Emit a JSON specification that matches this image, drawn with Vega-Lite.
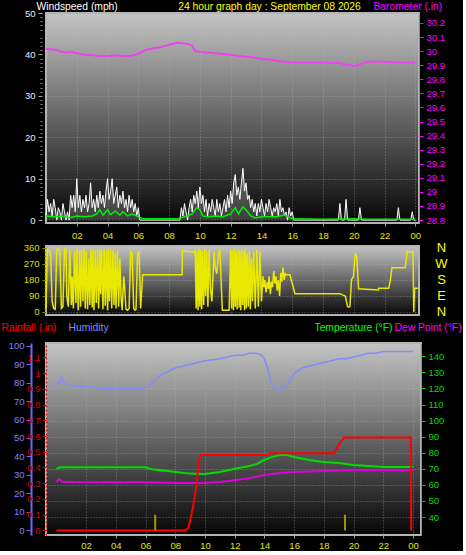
{
"$schema": "https://vega.github.io/schema/vega-lite/v6.json",
"background": "#000000",
"padding": 0,
"autosize": {"type": "pad"},
"config": {
 "font": "Liberation Sans",
 "axis": {"labelFont": "Liberation Sans", "titleFont": "Liberation Sans", "labelFontSize": 9.5, "titleFontSize": 10.3, "titleFontWeight": "normal", "gridColor": "#b8b8b8", "gridDash": [1, 2], "gridOpacity": 0.5, "domain": false, "labelFlush": false, "labelOverlap": false, "labelBound": false},
 "view": {"stroke": "#b4b4b4", "strokeWidth": 2, "fill": {"gradient": "linear", "x1": 0, "y1": 0, "x2": 0, "y2": 1, "stops": [{"offset": 0, "color": "#c4c4c4"}, {"offset": 1, "color": "#060606"}]}}
},
"datasets": {
 "gust": [
  {"h":0.0,"v":1},{"h":0.1,"v":5},{"h":0.2,"v":2},{"h":0.3,"v":4},{"h":0.4,"v":1},{"h":0.5,"v":5},{"h":0.6,"v":3},{"h":0.7,"v":0},{"h":0.8,"v":3},{"h":0.9,"v":2},
  {"h":1.0,"v":0},{"h":1.1,"v":4},{"h":1.2,"v":2},{"h":1.3,"v":0},{"h":1.4,"v":2},{"h":1.5,"v":0},{"h":1.6,"v":6},{"h":1.7,"v":3},{"h":1.8,"v":6},{"h":1.9,"v":2},
  {"h":2.0,"v":10},{"h":2.1,"v":3},{"h":2.2,"v":6},{"h":2.3,"v":2},{"h":2.4,"v":5},{"h":2.5,"v":3},{"h":2.6,"v":6},{"h":2.7,"v":2},{"h":2.8,"v":4},{"h":2.9,"v":9},
  {"h":3.0,"v":3},{"h":3.1,"v":5},{"h":3.2,"v":2},{"h":3.3,"v":6},{"h":3.4,"v":3},{"h":3.5,"v":7},{"h":3.6,"v":4},{"h":3.7,"v":6},{"h":3.8,"v":3},{"h":3.9,"v":7},
  {"h":4.0,"v":10},{"h":4.1,"v":5},{"h":4.2,"v":7},{"h":4.3,"v":10},{"h":4.4,"v":4},{"h":4.5,"v":6},{"h":4.6,"v":8},{"h":4.7,"v":3},{"h":4.8,"v":6},{"h":4.9,"v":4},
  {"h":5.0,"v":7},{"h":5.1,"v":3},{"h":5.2,"v":5},{"h":5.3,"v":2},{"h":5.4,"v":6},{"h":5.5,"v":3},{"h":5.6,"v":5},{"h":5.7,"v":2},{"h":5.8,"v":4},{"h":5.9,"v":1},
  {"h":6.0,"v":3},{"h":6.1,"v":0},{"h":8.7,"v":0},
  {"h":8.8,"v":3},{"h":8.9,"v":1},{"h":9.0,"v":4},{"h":9.1,"v":2},{"h":9.2,"v":0},{"h":9.3,"v":3},{"h":9.4,"v":5},{"h":9.5,"v":2},{"h":9.6,"v":6},{"h":9.7,"v":4},
  {"h":9.8,"v":7},{"h":9.9,"v":3},{"h":10.0,"v":8},{"h":10.1,"v":4},{"h":10.2,"v":6},{"h":10.3,"v":2},{"h":10.4,"v":5},{"h":10.5,"v":1},{"h":10.6,"v":4},{"h":10.7,"v":2},
  {"h":10.8,"v":5},{"h":10.9,"v":3},{"h":11.0,"v":1},{"h":11.1,"v":5},{"h":11.2,"v":2},{"h":11.3,"v":4},{"h":11.4,"v":1},{"h":11.5,"v":3},{"h":11.6,"v":5},{"h":11.7,"v":2},
  {"h":11.8,"v":6},{"h":11.9,"v":3},{"h":12.0,"v":7},{"h":12.1,"v":4},{"h":12.2,"v":9},{"h":12.3,"v":11},{"h":12.4,"v":6},{"h":12.5,"v":8},{"h":12.6,"v":5},{"h":12.7,"v":9},
  {"h":12.8,"v":12.5},{"h":12.9,"v":7},{"h":13.0,"v":9},{"h":13.1,"v":5},{"h":13.2,"v":6},{"h":13.3,"v":3},{"h":13.4,"v":5},{"h":13.5,"v":2},{"h":13.6,"v":4},{"h":13.7,"v":1},
  {"h":13.8,"v":4},{"h":13.9,"v":2},{"h":14.0,"v":5},{"h":14.1,"v":3},{"h":14.2,"v":1},{"h":14.3,"v":4},{"h":14.4,"v":2},{"h":14.5,"v":5},{"h":14.6,"v":3},{"h":14.7,"v":1},
  {"h":14.8,"v":3},{"h":14.9,"v":2},{"h":15.0,"v":4},{"h":15.1,"v":1},{"h":15.2,"v":5},{"h":15.3,"v":2},{"h":15.4,"v":3},{"h":15.5,"v":1},{"h":15.6,"v":2},{"h":15.7,"v":0},
  {"h":15.8,"v":3},{"h":15.9,"v":1},{"h":16.0,"v":2},{"h":16.1,"v":0},
  {"h":19.0,"v":0},{"h":19.1,"v":4},{"h":19.2,"v":0},{"h":19.4,"v":0},{"h":19.5,"v":5},{"h":19.6,"v":0},{"h":20.3,"v":0},{"h":20.4,"v":3},{"h":20.5,"v":0},
  {"h":22.8,"v":0},{"h":22.9,"v":3},{"h":23.0,"v":0},{"h":23.7,"v":0},{"h":23.8,"v":2},{"h":23.9,"v":0},{"h":24.0,"v":0}
 ],
 "avg": [
  {"h":0,"v":1},{"h":0.5,"v":0.8},{"h":1,"v":1},{"h":1.5,"v":0.6},{"h":2,"v":1},{"h":2.5,"v":0.8},{"h":3,"v":1},{"h":3.3,"v":1.5},{"h":3.5,"v":2.5},{"h":3.7,"v":1.2},
  {"h":4,"v":2.5},{"h":4.2,"v":1.3},{"h":4.5,"v":2.2},{"h":4.8,"v":1.2},{"h":5,"v":2},{"h":5.3,"v":1},{"h":5.6,"v":1.5},{"h":6,"v":0.8},{"h":6.3,"v":0.3},{"h":8.5,"v":0.3},
  {"h":9.0,"v":0.8},{"h":9.5,"v":1.5},{"h":9.8,"v":3},{"h":10.0,"v":2.5},{"h":10.2,"v":1},{"h":10.5,"v":0.8},{"h":11,"v":1},{"h":11.5,"v":0.8},{"h":12,"v":1.5},{"h":12.3,"v":3},
  {"h":12.5,"v":1.5},{"h":12.8,"v":3.2},{"h":13.0,"v":2.5},{"h":13.3,"v":1},{"h":13.6,"v":0.5},{"h":14,"v":0.8},{"h":15,"v":0.8},{"h":15.5,"v":1.2},{"h":16,"v":0.3},{"h":18,"v":0.2},
  {"h":20,"v":0.3},{"h":21,"v":0.2},{"h":24,"v":0.2}
 ],
 "baro": [
  {"h":0,"p":30.015},{"h":0.6,"p":30.01},{"h":1.0,"p":29.995},{"h":1.3,"p":29.99},{"h":1.6,"p":29.995},{"h":2.0,"p":29.985},{"h":2.5,"p":29.975},{"h":3.0,"p":29.97},{"h":3.5,"p":29.965},{"h":4.0,"p":29.965},
  {"h":4.5,"p":29.97},{"h":5.0,"p":29.965},{"h":5.5,"p":29.965},{"h":6.0,"p":29.98},{"h":6.5,"p":30.01},{"h":7.0,"p":30.02},{"h":7.5,"p":30.03},{"h":8.0,"p":30.045},{"h":8.5,"p":30.06},{"h":9.0,"p":30.055},
  {"h":9.3,"p":30.05},{"h":9.5,"p":30.04},{"h":9.7,"p":30.0},{"h":10.0,"p":29.995},{"h":10.5,"p":29.99},{"h":11,"p":29.985},{"h":11.5,"p":29.98},{"h":12,"p":29.975},{"h":12.5,"p":29.965},{"h":13,"p":29.96},
  {"h":13.5,"p":29.955},{"h":14,"p":29.945},{"h":14.5,"p":29.94},{"h":15,"p":29.93},{"h":15.5,"p":29.925},{"h":16,"p":29.92},{"h":17,"p":29.92},{"h":18,"p":29.92},{"h":19,"p":29.915},{"h":19.5,"p":29.905},
  {"h":20,"p":29.895},{"h":20.3,"p":29.9},{"h":20.6,"p":29.915},{"h":21,"p":29.925},{"h":22,"p":29.925},{"h":23,"p":29.92},{"h":24,"p":29.92}
 ],
 "dir": [
  {"h":0.0,"d":20},{"h":0.08,"d":350},{"h":0.2,"d":345},{"h":0.3,"d":320},{"h":0.4,"d":60},{"h":0.5,"d":20},{"h":0.6,"d":15},{"h":0.7,"d":350},{"h":0.8,"d":355},{"h":0.9,"d":345},
  {"h":1.0,"d":20},{"h":1.1,"d":30},{"h":1.2,"d":350},{"h":1.3,"d":355},{"h":1.35,"d":90},{"h":1.45,"d":30},{"h":1.55,"d":350},{"h":1.65,"d":40},{"h":1.7,"d":200},{"h":1.78,"d":20},
  {"h":1.85,"d":340},{"h":1.95,"d":50},{"h":2.0,"d":355},{"h":2.1,"d":10},{"h":2.18,"d":345},{"h":2.25,"d":30},{"h":2.32,"d":350},{"h":2.4,"d":60},{"h":2.48,"d":355},{"h":2.55,"d":20},
  {"h":2.62,"d":340},{"h":2.7,"d":15},{"h":2.78,"d":300},{"h":2.85,"d":40},{"h":2.92,"d":355},{"h":3.0,"d":25},{"h":3.05,"d":350},{"h":3.12,"d":10},{"h":3.2,"d":345},{"h":3.27,"d":50},
  {"h":3.35,"d":350},{"h":3.42,"d":20},{"h":3.5,"d":355},{"h":3.55,"d":100},{"h":3.62,"d":345},{"h":3.7,"d":15},{"h":3.78,"d":350},{"h":3.85,"d":35},{"h":3.92,"d":340},{"h":4.0,"d":10},
  {"h":4.05,"d":355},{"h":4.12,"d":60},{"h":4.2,"d":350},{"h":4.27,"d":20},{"h":4.35,"d":345},{"h":4.42,"d":40},{"h":4.5,"d":330},{"h":4.55,"d":20},{"h":4.65,"d":345},{"h":4.72,"d":30},
  {"h":4.8,"d":300},{"h":4.88,"d":80},{"h":4.95,"d":10},{"h":5.05,"d":200},{"h":5.1,"d":150},{"h":5.2,"d":15},{"h":5.3,"d":10},{"h":5.4,"d":20},{"h":5.5,"d":340},{"h":5.6,"d":330},
  {"h":5.7,"d":20},{"h":5.78,"d":10},{"h":5.85,"d":15},{"h":5.95,"d":330},{"h":6.05,"d":340},{"h":6.15,"d":20},{"h":6.28,"d":210},{"h":8.85,"d":210},{"h":8.86,"d":343},{"h":9.3,"d":340},
  {"h":9.6,"d":335},{"h":9.7,"d":345},{"h":9.76,"d":20},{"h":9.82,"d":340},{"h":9.88,"d":10},{"h":9.94,"d":355},{"h":10.0,"d":30},{"h":10.06,"d":350},{"h":10.12,"d":15},{"h":10.18,"d":340},
  {"h":10.25,"d":40},{"h":10.32,"d":355},{"h":10.38,"d":90},{"h":10.45,"d":340},{"h":10.52,"d":30},{"h":10.6,"d":350},{"h":10.7,"d":120},{"h":10.78,"d":60},{"h":10.85,"d":200},{"h":10.92,"d":340},
  {"h":11.0,"d":250},{"h":11.1,"d":215},{"h":11.2,"d":330},{"h":11.3,"d":345},{"h":11.46,"d":10},{"h":11.9,"d":10},{"h":12.0,"d":350},{"h":12.06,"d":20},{"h":12.12,"d":345},{"h":12.18,"d":10},
  {"h":12.25,"d":355},{"h":12.3,"d":30},{"h":12.36,"d":340},{"h":12.42,"d":15},{"h":12.48,"d":350},{"h":12.55,"d":25},{"h":12.6,"d":345},{"h":12.66,"d":10},{"h":12.72,"d":350},{"h":12.78,"d":40},
  {"h":12.85,"d":340},{"h":12.9,"d":10},{"h":12.96,"d":355},{"h":13.02,"d":20},{"h":13.08,"d":330},{"h":13.15,"d":30},{"h":13.22,"d":345},{"h":13.28,"d":15},{"h":13.35,"d":300},{"h":13.42,"d":60},
  {"h":13.5,"d":340},{"h":13.6,"d":20},{"h":13.7,"d":350},{"h":13.8,"d":30},{"h":13.9,"d":340},{"h":14.0,"d":60},{"h":14.1,"d":200},{"h":14.15,"d":140},{"h":14.22,"d":180},{"h":14.3,"d":110},
  {"h":14.38,"d":170},{"h":14.45,"d":130},{"h":14.5,"d":200},{"h":14.58,"d":100},{"h":14.65,"d":170},{"h":14.72,"d":140},{"h":14.8,"d":230},{"h":14.88,"d":160},{"h":14.95,"d":200},{"h":15.02,"d":120},
  {"h":15.1,"d":180},{"h":15.18,"d":90},{"h":15.25,"d":220},{"h":15.32,"d":170},{"h":15.4,"d":250},{"h":15.48,"d":180},{"h":15.55,"d":215},{"h":15.62,"d":210},{"h":15.85,"d":210},{"h":16.18,"d":103},
  {"h":19.11,"d":103},{"h":19.3,"d":95},{"h":19.45,"d":90},{"h":19.6,"d":30},{"h":19.66,"d":28},{"h":19.75,"d":30},{"h":19.85,"d":180},{"h":19.98,"d":200},{"h":20.1,"d":330},{"h":20.2,"d":310},
  {"h":20.31,"d":130},{"h":21.61,"d":124},{"h":21.62,"d":133},{"h":22.27,"d":133},{"h":22.37,"d":175},{"h":22.48,"d":249},{"h":23.35,"d":249},{"h":23.46,"d":339},{"h":23.85,"d":339},{"h":23.9,"d":0},
  {"h":23.95,"d":133},{"h":24.2,"d":133}
 ],
 "hum": [
  {"h":0,"v":79},{"h":0.2,"v":80},{"h":0.35,"v":83},{"h":0.5,"v":80},{"h":0.8,"v":79},{"h":1.2,"v":78},{"h":2,"v":78},{"h":3,"v":77},{"h":4,"v":77},{"h":5,"v":77},
  {"h":5.8,"v":77},{"h":6.2,"v":78},{"h":6.6,"v":81},{"h":7,"v":84},{"h":7.5,"v":86},{"h":8,"v":88},{"h":8.5,"v":89},{"h":9,"v":90},{"h":9.5,"v":91},{"h":10,"v":92},
  {"h":11,"v":93},{"h":12,"v":95},{"h":12.5,"v":95},{"h":13,"v":96},{"h":13.5,"v":96},{"h":13.8,"v":95},{"h":14,"v":93},{"h":14.2,"v":88},{"h":14.4,"v":82},{"h":14.6,"v":78},
  {"h":14.8,"v":76},{"h":15,"v":76},{"h":15.2,"v":78},{"h":15.4,"v":77},{"h":15.6,"v":80},{"h":16,"v":85},{"h":16.5,"v":88},{"h":17,"v":89},{"h":17.5,"v":90},{"h":18,"v":91},
  {"h":18.5,"v":92},{"h":19,"v":93},{"h":19.5,"v":93},{"h":20,"v":94},{"h":20.5,"v":95},{"h":21,"v":96},{"h":21.5,"v":96},{"h":22,"v":97},{"h":23,"v":97},{"h":24,"v":97}
 ],
 "temp": [
  {"h":0,"v":70},{"h":0.3,"v":71},{"h":6,"v":71},{"h":6.5,"v":69.5},{"h":7,"v":69.2},{"h":8,"v":68},{"h":9,"v":67},{"h":10,"v":66.8},{"h":11,"v":68},{"h":12,"v":70},
  {"h":13,"v":71.7},{"h":13.5,"v":73},{"h":14,"v":75.5},{"h":14.5,"v":77.3},{"h":15,"v":78.6},{"h":15.5,"v":78.6},{"h":16,"v":77.3},{"h":17,"v":75.5},{"h":18,"v":74.2},{"h":19,"v":73.6},
  {"h":20,"v":72.4},{"h":21,"v":71.7},{"h":22,"v":71.1},{"h":24,"v":71.1}
 ],
 "dew": [
  {"h":0,"v":62},{"h":0.2,"v":63.5},{"h":0.4,"v":62},{"h":1,"v":61.8},{"h":3,"v":61.6},{"h":6,"v":61.6},{"h":7,"v":61.4},{"h":8,"v":61.2},{"h":10,"v":61.2},{"h":11,"v":61.8},
  {"h":12,"v":62.9},{"h":13,"v":64.2},{"h":14,"v":66.1},{"h":15,"v":67.4},{"h":16,"v":68},{"h":18,"v":68.6},{"h":20,"v":69.2},{"h":22,"v":69.3},{"h":24,"v":69.3}
 ],
 "rain": [
  {"h":0,"v":0},{"h":8.7,"v":0},{"h":8.9,"v":0.02},{"h":9.2,"v":0.15},{"h":9.45,"v":0.3},{"h":9.6,"v":0.45},{"h":9.75,"v":0.48},{"h":14.3,"v":0.48},{"h":14.4,"v":0.49},{"h":18.7,"v":0.49},
  {"h":18.9,"v":0.53},{"h":19.2,"v":0.57},{"h":19.35,"v":0.59},{"h":23.85,"v":0.59},{"h":23.88,"v":0}
 ],
 "rate": [
  {"h":6.65,"r":0.1},{"h":19.42,"r":0.1}
 ]
},
"spacing": 1,
"vconcat": [
 {
  "spacing": -1,
  "vconcat": [
   {
    "width": 373, "height": 210,
    "encoding": {"x": {"field": "h", "type": "quantitative", "scale": {"domain": [0, 24.24], "nice": false, "zero": false},
      "axis": {"values": [2,4,6,8,10,12,14,16,18,20,22,24], "labelExpr": "datum.value == 24 ? '00' : (datum.value < 10 ? '0' + datum.value : '' + datum.value)", "labelColor": "#e6e600", "tickColor": "#9a9a9a", "tickSize": 3, "labelPadding": 4, "grid": true,
       "title": "24 hour graph day : September 08 2026", "titleColor": "#ffff00", "titleX": 223, "titleY": -222, "titleBaseline": "top", "titleAlign": "center"}}},
    "layer": [
     {"layer": [
      {"data": {"name": "gust"}, "mark": {"type": "area", "color": "#ffffff", "fillOpacity": 0.22, "line": {"color": "#ffffff", "strokeWidth": 1}},
       "encoding": {"y": {"field": "v", "type": "quantitative", "scale": {"domain": [-0.7, 50], "nice": false, "zero": false},
        "axis": {"orient": "left", "values": [0,5,10,15,20,25,30,35,40,45,50], "labelColor": "#e8eeff", "tickColor": "#a0a0a0", "tickSize": 4, "offset": 4, "labelPadding": 3, "grid": true,
         "title": "Windspeed (mph)", "titleColor": "#ffffff", "titleAngle": 0, "titleAlign": "left", "titleBaseline": "top", "titleX": -6, "titleY": -12}}}},
      {"data": {"name": "avg"}, "mark": {"type": "line", "color": "#00ee00", "strokeWidth": 1.5},
       "encoding": {"y": {"field": "v", "type": "quantitative", "scale": {"domain": [-0.7, 50], "nice": false, "zero": false}}}}
     ]},
     {"data": {"name": "baro"}, "mark": {"type": "line", "color": "#ee44ee", "strokeWidth": 2},
      "encoding": {"y": {"field": "p", "type": "quantitative", "scale": {"domain": [28.779, 30.271], "nice": false, "zero": false},
       "axis": {"orient": "right", "values": [28.8,28.9,29,29.1,29.2,29.3,29.4,29.5,29.6,29.7,29.8,29.9,30,30.1,30.2], "format": "~g", "labelColor": "#ff00ff", "tickColor": "#ff00ff", "tickSize": 4, "domain": true, "domainColor": "#ff00ff", "domainDash": [1, 1], "labelPadding": 3, "grid": false,
        "title": "Barometer (.in)", "titleColor": "#ff00ff", "titleAngle": 0, "titleAlign": "left", "titleBaseline": "top", "titleX": -46, "titleY": -12}}}},
     {"data": {"name": "avg"}, "mark": {"type": "line", "strokeOpacity": 0},
      "encoding": {"y": {"field": "v", "type": "quantitative", "scale": {"domain": [-0.7, 50], "nice": false, "zero": false},
       "axis": {"orient": "left", "offset": 4, "values": [1,2,3,4,6,7,8,9,11,12,13,14,16,17,18,19,21,22,23,24,26,27,28,29,31,32,33,34,36,37,38,39,41,42,43,44,46,47,48,49], "labels": false, "tickSize": 2, "tickColor": "#8a8a8a", "grid": false, "title": null}}}}
    ],
    "resolve": {"scale": {"y": "independent"}}
   },
   {
    "width": 373, "height": 69,
    "encoding": {"x": {"field": "h", "type": "quantitative", "scale": {"domain": [0, 24.24], "nice": false, "zero": false},
      "axis": {"values": [2,4,6,8,10,12,14,16,18,20,22,24], "labels": false, "ticks": false, "grid": true, "title": null}}},
    "layer": [
     {"data": {"name": "dir"}, "mark": {"type": "line", "color": "#e8e800", "strokeWidth": 1.5},
      "encoding": {"y": {"field": "d", "type": "quantitative", "scale": {"domain": [-17, 371], "nice": false, "zero": false},
       "axis": {"orient": "left", "values": [0,90,180,270,360], "labelColor": "#dddd00", "tickColor": "#888800", "tickSize": 4, "labelPadding": 3, "grid": true, "title": null}}}},
     {"data": {"name": "dir"}, "mark": {"type": "line", "strokeOpacity": 0},
      "encoding": {"y": {"field": "d", "type": "quantitative", "scale": {"domain": [-17, 371], "nice": false, "zero": false},
       "axis": {"orient": "right", "values": [0,90,180,270,360], "labelExpr": "datum.value == 90 ? 'E' : datum.value == 180 ? 'S' : datum.value == 270 ? 'W' : 'N'", "ticks": false, "domain": false, "grid": false, "labelColor": "#ffff00", "labelFontSize": 13, "labelPadding": 22, "labelAlign": "center", "title": null}}}},
     {"data": {"name": "dir"}, "mark": {"type": "line", "strokeOpacity": 0},
      "encoding": {"y": {"field": "d", "type": "quantitative", "scale": {"domain": [-17, 371], "nice": false, "zero": false},
       "axis": {"orient": "left", "values": [22.5,45,67.5,112.5,135,157.5,202.5,225,247.5,292.5,315,337.5], "labels": false, "tickSize": 2, "tickColor": "#888800", "grid": false, "title": null}}}}
    ],
    "resolve": {"scale": {"y": "independent"}}
   }
  ]
 },
 {
  "width": 375, "height": 192,
  "encoding": {"x": {"field": "h", "type": "quantitative", "scale": {"domain": [-0.36, 24.2], "nice": false, "zero": false},
    "axis": {"values": [2,4,6,8,10,12,14,16,18,20,22,24], "labelExpr": "datum.value == 24 ? '00' : (datum.value < 10 ? '0' + datum.value : '' + datum.value)", "labelColor": "#e6e600", "tickColor": "#9a9a9a", "tickSize": 3, "labelPadding": 2, "grid": true, "title": null}}},
  "layer": [
   {"data": {"name": "hum"}, "mark": {"type": "line", "color": "#8888ff", "strokeWidth": 1.5},
    "encoding": {"y": {"field": "v", "type": "quantitative", "scale": {"domain": [-2.7, 101.6], "nice": false, "zero": false},
     "axis": {"orient": "left", "offset": 15, "values": [0,10,20,30,40,50,60,70,80,90,100], "domain": true, "domainColor": "#6a6aee", "domainWidth": 2, "tickColor": "#6a6aee", "tickSize": 5, "labelColor": "#8080ff", "labelPadding": 2, "grid": false,
      "title": "Humidity", "titleColor": "#8888ff", "titleAngle": 0, "titleAlign": "left", "titleBaseline": "top", "titleX": 37, "titleY": -21}}}},
   {"data": {"name": "temp"}, "mark": {"type": "line", "color": "#00dd00", "strokeWidth": 2},
    "encoding": {"y": {"field": "v", "type": "quantitative", "scale": {"domain": [28.8, 148.3], "nice": false, "zero": false},
     "axis": {"orient": "right", "values": [40,50,60,70,80,90,100,110,120,130,140], "domain": true, "domainColor": "#00bb00", "domainDash": [1, 1], "tickColor": "#00cc00", "tickSize": 4, "labelColor": "#00dd00", "labelPadding": 3, "grid": true,
      "title": "Temperature (°F)", "titleColor": "#00ff00", "titleAngle": 0, "titleAlign": "left", "titleBaseline": "top", "titleX": -107, "titleY": -21}}}},
   {"data": {"name": "dew"}, "mark": {"type": "line", "color": "#dd00dd", "strokeWidth": 2},
    "encoding": {"y": {"field": "v", "type": "quantitative", "scale": {"domain": [28.8, 148.3], "nice": false, "zero": false},
     "axis": {"orient": "right", "labels": false, "ticks": false, "domain": false, "grid": false,
      "title": "Dew Point (°F)", "titleColor": "#ff00ff", "titleAngle": 0, "titleAlign": "left", "titleBaseline": "top", "titleX": -27, "titleY": -21}}}},
   {"data": {"name": "rain"}, "mark": {"type": "line", "color": "#ff0000", "strokeWidth": 2},
    "encoding": {"y": {"field": "v", "type": "quantitative", "scale": {"domain": [-0.029, 1.191], "nice": false, "zero": false},
     "axis": {"orient": "left", "offset": 0, "values": [0,0.1,0.2,0.3,0.4,0.5,0.6,0.7,0.8,0.9,1,1.1], "format": "~g", "domain": true, "domainColor": "#dd0000", "domainDash": [2, 2], "tickColor": "#dd0000", "tickSize": 4, "labelColor": "#dd0000", "labelPadding": 2, "grid": false,
      "title": "Rainfall (.in)", "titleColor": "#ff0000", "titleAngle": 0, "titleAlign": "left", "titleBaseline": "top", "titleX": -45, "titleY": -21}}}},
   {"data": {"name": "rate"}, "mark": {"type": "bar", "color": "#999900", "size": 2},
    "encoding": {"y": {"field": "r", "type": "quantitative", "scale": {"domain": [-0.029, 1.191], "nice": false, "zero": false}, "axis": null}}}
  ],
  "resolve": {"scale": {"y": "independent"}}
 }
]
}
